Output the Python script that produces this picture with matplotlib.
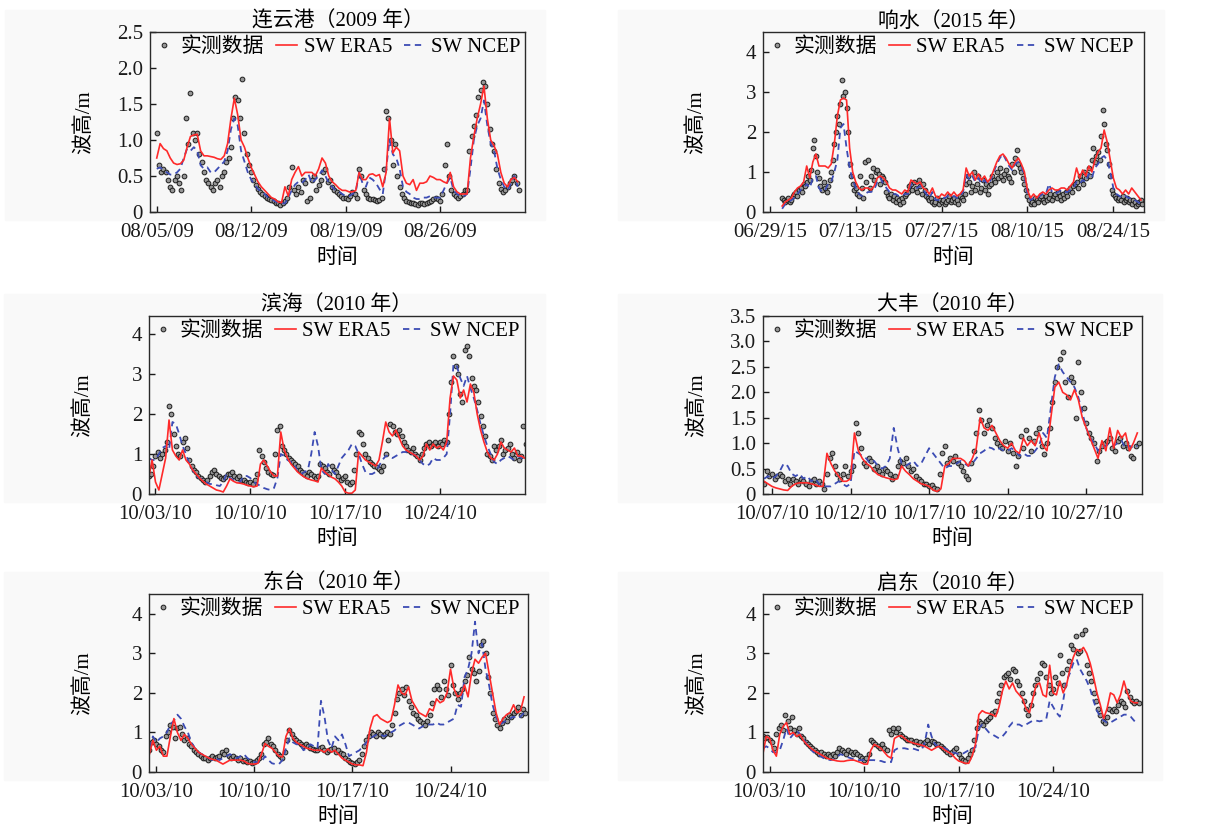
import matplotlib
matplotlib.use("Agg")
import matplotlib.pyplot as plt
import matplotlib.dates as mdates
from matplotlib.patches import Rectangle
from matplotlib.ticker import FuncFormatter
import pandas as pd

plt.rcParams["font.family"] = ["Liberation Serif", "Noto Sans CJK SC"]
plt.rcParams["font.size"] = 15
plt.rcParams["axes.unicode_minus"] = False

# ---------- 连云港 2009: obs every 4 h, models every 6 h, from 08/05 00:00 ----------
lyg_obs = [
    1.1, 0.65, 0.55, 0.6, 0.55, 0.45,
    0.35, 0.3, 0.45, 0.5, 0.4, 0.3,
    0.5, 1.3, 0.95, 1.65, 1.1, 1.0,
    1.1, 0.8, 0.7, 0.55, 0.45, 0.4,
    0.35, 0.3, 0.4, 0.45, 0.35, 0.5,
    0.55, 0.7, 0.75, 0.9, 1.3, 1.6,
    1.55, 1.3, 1.85, 1.1, 0.8, 0.65,
    0.55, 0.45, 0.38, 0.32, 0.28, 0.25,
    0.22, 0.2, 0.18, 0.16, 0.15, 0.13,
    0.12, 0.1, 0.12, 0.15, 0.2, 0.35,
    0.62, 0.3, 0.25, 0.35, 0.28, 0.45,
    0.4, 0.15, 0.2, 0.45, 0.5, 0.3,
    0.38, 0.45, 0.55, 0.6, 0.42, 0.45,
    0.35, 0.3, 0.28, 0.25, 0.22, 0.2,
    0.2, 0.18, 0.22, 0.28, 0.25, 0.2,
    0.6, 0.5, 0.3, 0.25, 0.2, 0.18,
    0.18, 0.16, 0.15, 0.17, 0.2, 0.6,
    1.4, 1.3, 1.0, 0.65, 0.95, 0.5,
    0.35, 0.25, 0.2, 0.15, 0.14, 0.12,
    0.12, 0.11, 0.1, 0.13, 0.12, 0.11,
    0.12, 0.14, 0.15, 0.18, 0.2, 0.18,
    0.15, 0.25, 0.65, 0.95, 0.5, 0.3,
    0.25, 0.22, 0.2, 0.22, 0.25, 0.3,
    0.3, 0.85, 1.05, 1.2, 1.35, 1.6,
    1.7, 1.8, 1.75, 1.5, 1.15, 0.95,
    0.85, 0.6, 0.4, 0.32, 0.28, 0.3,
    0.35, 0.4, 0.45, 0.5, 0.4, 0.3,
]
lyg_era5 = [
    0.75, 0.95, 0.88, 0.85, 0.75, 0.68, 0.66, 0.67, 0.72, 0.9, 1.05, 1.07,
    1.08, 0.85, 0.78, 0.78, 0.77, 0.76, 0.74, 0.73, 0.78, 0.95, 1.3, 1.58,
    1.35, 1.0, 0.9, 0.75, 0.62, 0.52, 0.42, 0.35, 0.3, 0.25, 0.2, 0.18,
    0.14, 0.13, 0.35, 0.22, 0.45, 0.55, 0.63, 0.5, 0.55, 0.55, 0.55, 0.5,
    0.6, 0.75, 0.68, 0.5, 0.42, 0.38, 0.33, 0.3, 0.3, 0.28, 0.28, 0.3,
    0.55, 0.45, 0.45, 0.52, 0.53, 0.5, 0.52, 0.35, 0.55, 1.3, 0.82, 0.9,
    0.85, 0.5, 0.4, 0.38, 0.45, 0.3, 0.4, 0.4, 0.42, 0.5, 0.48, 0.45,
    0.45, 0.42, 0.4, 0.55, 0.35, 0.28, 0.25, 0.25, 0.25, 0.75, 1.05, 1.3,
    1.5, 1.75, 1.3, 1.0, 0.92, 0.8, 0.55, 0.4, 0.35, 0.45, 0.48, 0.42,
]
lyg_ncep = [
    0.6, 0.62, 0.58, 0.55, 0.52, 0.52, 0.55, 0.6, 0.75, 0.88, 0.85, 0.9,
    0.85, 0.65, 0.6, 0.62, 0.55, 0.55, 0.6, 0.65, 0.7, 0.85, 1.15, 1.3,
    1.2, 0.85, 0.7, 0.55, 0.45, 0.38, 0.32, 0.28, 0.25, 0.2, 0.18, 0.15,
    0.13, 0.12, 0.12, 0.2, 0.3, 0.38, 0.42, 0.4, 0.45, 0.52, 0.4, 0.45,
    0.5, 0.58, 0.5, 0.4, 0.35, 0.3, 0.28, 0.25, 0.22, 0.22, 0.25, 0.28,
    0.55, 0.4, 0.35, 0.48, 0.45, 0.4, 0.32, 0.25, 0.6, 1.0, 0.8, 0.75,
    0.6, 0.35, 0.28, 0.25, 0.2, 0.18, 0.18, 0.2, 0.2, 0.22, 0.2, 0.2,
    0.2, 0.3, 0.4, 0.48, 0.3, 0.25, 0.22, 0.22, 0.25, 0.6, 1.0, 1.2,
    1.3, 1.55, 1.2, 0.95, 0.85, 0.6, 0.45, 0.35, 0.3, 0.4, 0.5, 0.35,
]

# ---------- 响水 2015: obs every 6 h, models every 12 h, from 07/01 00:00 ----------
xs_obs = [
    0.35, 0.3, 0.25, 0.3, 0.35, 0.25, 0.3, 0.4, 0.45, 0.5, 0.4, 0.55,
    0.6, 0.5, 0.7, 0.65, 0.75, 0.9, 0.8, 1.05, 1.6, 1.8, 1.4, 1.0,
    0.85, 0.65, 0.55, 0.75, 0.6, 0.5, 0.65, 0.8, 1.0, 1.3, 1.7, 2.0,
    2.4, 2.2, 2.7, 3.3, 2.9, 3.0, 2.6, 2.0, 1.2, 0.9, 0.7, 0.55,
    0.6, 0.45, 0.4, 0.9, 0.6, 0.35, 1.25, 0.75, 1.3, 0.6, 0.9, 1.1,
    0.8, 1.0, 1.05, 0.95, 0.7, 0.9, 0.85, 0.75, 0.5, 0.4, 0.35, 0.45,
    0.3, 0.4, 0.25, 0.35, 0.3, 0.2, 0.35, 0.25, 0.4, 0.45, 0.5, 0.65,
    0.7, 0.55, 0.75, 0.6, 0.5, 0.8, 0.65, 0.45, 0.7, 0.55, 0.4, 0.35,
    0.3, 0.35, 0.25, 0.2, 0.25, 0.35, 0.2, 0.3, 0.25, 0.3, 0.2, 0.25,
    0.3, 0.4, 0.25, 0.3, 0.35, 0.25, 0.3, 0.2, 0.4, 0.35, 0.3, 0.45,
    0.7, 0.9, 0.75, 0.5, 0.65, 1.0, 0.55, 0.7, 0.9, 0.5, 0.6, 0.8,
    0.55, 0.7, 0.45, 0.65, 0.7, 0.9, 0.8, 0.75, 1.0, 0.85, 1.1, 0.9,
    0.8, 0.95, 1.05, 0.9, 0.85, 0.75, 1.2, 1.0, 1.35, 1.55, 1.2, 1.1,
    1.0, 0.85, 0.7, 0.55, 0.4, 0.3, 0.2, 0.25, 0.2, 0.35, 0.3, 0.25,
    0.35, 0.4, 0.3, 0.25, 0.4, 0.3, 0.35, 0.45, 0.3, 0.4, 0.45, 0.35,
    0.5, 0.4, 0.3, 0.45, 0.35, 0.5, 0.4, 0.55, 0.6, 0.5, 0.65, 0.7,
    0.75, 0.6, 0.9, 0.8, 0.7, 1.0, 0.85, 0.95, 1.1, 0.9, 1.3, 1.6,
    1.25, 1.4, 1.5, 1.3, 1.9, 2.55, 2.2, 1.7, 1.55, 1.2, 0.9, 0.55,
    0.45, 0.4, 0.35, 0.3, 0.35, 0.3, 0.4, 0.25, 0.3, 0.35, 0.25, 0.3,
    0.2, 0.3, 0.25, 0.15, 0.2, 0.25, 0.3, 0.2,
]
xs_era5 = [
    0.15, 0.25, 0.3, 0.35, 0.5, 0.6, 0.65, 0.75, 1.15, 0.85, 1.25, 1.45,
    1.15, 1.15, 1.15, 1.1, 1.2, 1.7, 2.4, 2.8, 2.85, 2.8, 1.6, 1.0,
    0.75, 0.6, 0.55, 0.6, 0.6, 0.55, 0.65, 0.85, 0.9, 0.85, 0.75, 0.6,
    0.55, 0.55, 0.5, 0.45, 0.55, 0.5, 0.8, 0.75, 0.7, 0.75, 0.6, 0.55,
    0.45, 0.6, 0.4, 0.35, 0.45, 0.4, 0.5, 0.4, 0.5, 0.4, 0.45, 0.55,
    1.1, 0.9, 1.0, 0.8, 0.95, 0.8, 0.9, 0.75, 0.85, 1.05, 1.25, 1.4,
    1.45, 1.35, 1.2, 1.1, 1.25, 1.35, 1.2, 1.0, 0.55, 0.35, 0.45, 0.35,
    0.45, 0.5, 0.45, 0.55, 0.6, 0.55, 0.55, 0.6, 0.6, 0.55, 0.65, 0.75,
    1.1, 0.85, 1.05, 0.9, 1.15, 1.0, 1.3, 1.5, 1.6, 2.05, 1.75, 1.3,
    0.85, 0.6, 0.55, 0.45, 0.55, 0.45, 0.6, 0.5, 0.4, 0.3,
]
xs_ncep = [
    0.08, 0.2, 0.25, 0.3, 0.35, 0.45, 0.55, 0.6, 0.7, 0.6, 0.85, 0.9,
    0.6, 0.5, 0.55, 0.7, 0.75, 1.0, 1.3, 2.1, 2.2, 1.6, 1.1, 0.8,
    0.6, 0.45, 0.4, 0.45, 0.5, 0.5, 0.55, 0.75, 0.85, 0.7, 0.6, 0.5,
    0.45, 0.45, 0.4, 0.4, 0.45, 0.45, 0.7, 0.65, 0.6, 0.65, 0.55, 0.45,
    0.35, 0.5, 0.3, 0.3, 0.35, 0.35, 0.4, 0.35, 0.4, 0.35, 0.4, 0.5,
    0.95, 0.8, 0.9, 0.75, 0.85, 0.7, 0.8, 0.7, 0.8, 1.0, 1.2, 1.35,
    1.45, 1.3, 1.15, 1.05, 1.2, 1.25, 1.15, 0.9, 0.45, 0.3, 0.35, 0.35,
    0.4, 0.45, 0.45, 0.7, 0.5, 0.45, 0.5, 0.55, 0.5, 0.5, 0.55, 0.6,
    0.75, 0.7, 0.8, 0.75, 0.95, 0.85, 1.1, 1.2, 1.35, 1.4, 1.3, 1.0,
    0.6, 0.45, 0.4, 0.35, 0.4, 0.35, 0.35, 0.3, 0.25, 0.2,
]

# ---------- 滨海 2010: obs every 4 h, models every 6 h, from 10/02 12:00 ----------
bh_obs = [
    0.45, 0.5, 0.7, 0.95, 1.05, 0.9,
    1.0, 1.1, 1.3, 2.2, 2.0, 1.5,
    1.2, 1.0, 0.95, 1.3, 1.4, 1.15,
    0.85, 0.7, 0.6, 0.55, 0.45, 0.4,
    0.35, 0.3, 0.35, 0.45, 0.55, 0.6,
    0.5, 0.45, 0.4, 0.38, 0.42, 0.5,
    0.5, 0.55, 0.45, 0.4, 0.45, 0.35,
    0.35, 0.3, 0.28, 0.3, 0.25, 0.35,
    0.5, 1.1, 0.95, 0.8, 0.65, 0.55,
    0.5, 0.48, 1.0, 1.6, 1.7, 1.2,
    1.1, 1.0, 0.9, 0.85, 0.8, 0.75,
    0.7, 0.6, 0.55, 0.5, 0.45, 0.55,
    0.5, 0.45, 0.4, 0.45, 0.75, 0.7,
    0.65, 0.55, 0.5, 0.7, 0.6, 0.55,
    0.45, 0.35, 0.4, 0.45, 0.3, 0.25,
    0.3, 0.6, 1.0, 1.55, 1.5, 1.25,
    1.0, 0.9, 0.8, 0.75, 0.7, 0.68,
    0.62, 0.58, 0.7, 1.0, 1.35, 1.75,
    1.7, 1.55, 1.5, 1.6, 1.45, 1.3,
    1.2, 1.1, 1.05, 1.15, 1.0, 0.95,
    0.85, 1.0, 1.15, 1.25, 1.3, 1.2,
    1.25, 1.3, 1.2, 1.3, 1.25, 1.35,
    1.3, 2.0, 2.8, 3.45, 3.2, 3.0,
    2.5, 2.3, 3.6, 3.7, 3.45, 2.9,
    2.7, 2.6, 2.3, 1.95, 1.7, 1.45,
    1.0, 0.95, 0.85, 1.2, 1.1, 1.2,
    1.35, 1.0, 1.1, 1.15, 1.25, 1.0,
    0.9, 1.05, 0.85, 0.95, 1.7, 1.25,
]
bh_era5 = [
    0.4, 0.85, 0.3, 0.1, 0.5, 0.9, 1.85, 1.1, 0.95, 0.85, 1.1, 0.85,
    0.75, 0.6, 0.5, 0.4, 0.32, 0.25, 0.2, 0.15, 0.1, 0.08, 0.05, 0.2,
    0.38, 0.32, 0.28, 0.27, 0.25, 0.22, 0.2, 0.18, 0.2, 0.75, 0.85, 0.7,
    0.55, 0.45, 0.45, 1.55, 1.1, 0.9, 0.75, 0.65, 0.55, 0.48, 0.42, 0.38,
    0.35, 0.33, 0.3, 0.65, 0.55, 0.48, 0.42, 0.38, 0.3, 0.2, 0.05, 0.02,
    0.02, 0.1, 1.05, 0.95, 0.85, 0.8, 0.75, 0.7, 0.85, 1.3, 1.8, 1.55,
    1.45, 1.6, 1.4, 1.2, 1.1, 1.05, 1.0, 0.95, 0.85, 0.95, 1.25, 1.1,
    1.25, 1.15, 1.2, 1.1, 1.3, 2.4, 2.95, 2.85, 2.4, 2.6, 2.3, 2.75,
    2.55, 2.0, 1.6, 1.3, 1.05, 0.9, 0.85, 1.0, 1.3, 1.15, 1.1, 1.05,
    1.15, 0.95, 0.95, 0.9,
]
bh_ncep = [
    0.9, 0.85, 0.85, 1.0, 1.15, 1.2, 1.1, 1.8, 1.75, 1.5, 1.2, 1.0,
    0.75, 0.6, 0.45, 0.4, 0.35, 0.3, 0.25, 0.25, 0.22, 0.2, 0.3, 0.5,
    0.4, 0.35, 0.3, 0.3, 0.45, 0.45, 0.4, 0.3, 0.25, 0.2, 0.15, 0.12,
    0.1, 0.15, 0.4, 1.0, 0.95, 0.85, 0.8, 0.75, 0.55, 0.5, 0.55, 0.6,
    1.0, 1.55, 1.2, 0.6, 0.5, 0.75, 0.6, 0.5, 0.7, 0.9, 1.0, 1.1,
    1.25, 1.2, 1.0, 0.75, 0.55, 0.5, 0.5, 0.55, 0.7, 0.85, 0.95, 0.95,
    0.9, 0.95, 1.0, 1.05, 1.05, 1.0, 1.0, 0.95, 0.85, 0.75, 0.7, 0.75,
    0.9, 0.85, 0.85, 0.9, 1.0, 2.0, 3.25, 3.2, 2.9, 2.7, 2.95, 2.65,
    2.4, 2.1, 1.75, 1.45, 1.2, 1.0, 0.8, 0.75, 0.85, 0.9, 0.95, 0.9,
    0.85, 0.95, 0.9, 0.85,
]

# ---------- 大丰 2010: obs every 4 h, models every 6 h, from 10/06 12:00 ----------
df_obs = [
    0.2, 0.45, 0.35, 0.4, 0.3, 0.35,
    0.4, 0.35, 0.25, 0.3, 0.2, 0.3,
    0.25, 0.2, 0.3, 0.25, 0.2, 0.15,
    0.25, 0.3, 0.2, 0.25, 0.2, 0.1,
    0.4, 0.7, 0.8, 0.55, 0.4, 0.3,
    0.4, 0.55, 0.35, 0.45, 0.55, 1.4,
    1.2, 0.9, 0.6, 0.55, 0.7, 0.65,
    0.5, 0.55, 0.45, 0.4, 0.5, 0.45,
    0.4, 0.3, 0.35, 0.55, 0.65, 0.6,
    0.7, 0.55, 0.45, 0.5, 0.35, 0.3,
    0.25, 0.2, 0.2, 0.15, 0.18, 0.12,
    0.1, 0.4, 0.8, 0.95, 0.6, 0.7,
    0.65, 0.75, 0.6, 0.55, 0.45, 0.35,
    0.3, 0.6, 0.85, 1.2, 1.65, 1.45,
    1.2, 1.35, 1.45, 1.3, 1.1, 1.0,
    0.95, 0.9, 1.05, 0.85, 1.0, 0.8,
    0.55, 0.75, 1.15, 0.9, 1.25, 1.1,
    0.85, 1.05, 1.2, 1.3, 0.95, 0.78,
    1.0, 1.3, 1.8, 2.2, 2.5, 2.65,
    2.8, 2.2, 1.9, 2.3, 2.2, 1.5,
    2.6, 2.0, 1.7, 1.4, 1.2, 1.1,
    1.0, 0.65, 0.85, 0.95, 1.0, 1.05,
    1.1, 0.9, 0.85, 1.05, 1.1, 0.95,
    1.0, 0.9, 0.75, 0.7, 0.95, 1.0,
]
df_era5 = [
    0.25, 0.2, 0.15, 0.12, 0.1, 0.08, 0.07, 0.15, 0.2, 0.22, 0.22, 0.22,
    0.2, 0.18, 0.15, 0.15, 0.8, 0.6, 0.45, 0.35, 0.25, 0.25, 0.3, 1.2,
    0.85, 0.7, 0.6, 0.55, 0.45, 0.38, 0.35, 0.32, 0.3, 0.28, 0.3, 0.55,
    0.45, 0.38, 0.3, 0.25, 0.2, 0.18, 0.15, 0.08, 0.05, 0.1, 0.55, 0.6,
    0.7, 0.7, 0.7, 0.65, 0.55, 0.7, 0.9, 1.5, 1.3, 1.25, 1.35, 1.2,
    1.05, 0.95, 0.9, 1.0, 0.85, 0.8, 1.1, 0.95, 1.05, 0.95, 1.2, 0.95,
    0.85, 1.5, 2.1, 2.2, 2.0, 1.95, 1.85, 2.05, 1.85, 1.5, 1.3, 1.1,
    0.9, 0.7, 1.05, 0.85, 1.3, 0.9, 1.25, 1.1, 1.2, 0.85, 1.0, 1.2,
]
df_ncep = [
    0.3, 0.35, 0.3, 0.35, 0.45, 0.6, 0.55, 0.4, 0.35, 0.4, 0.3, 0.35,
    0.25, 0.3, 0.2, 0.15, 0.15, 0.15, 0.2, 0.25, 0.2, 0.15, 0.2, 0.85,
    0.8, 0.75, 0.7, 0.6, 0.65, 0.55, 0.5, 0.55, 0.7, 1.3, 0.9, 0.6,
    0.55, 0.6, 0.65, 0.55, 0.6, 0.75, 0.9, 0.8, 0.7, 0.6, 0.5, 0.55,
    0.55, 0.6, 0.65, 0.6, 0.55, 0.6, 0.7, 0.8, 0.85, 0.92, 0.9, 0.85,
    0.9, 0.85, 0.85, 0.9, 0.85, 0.75, 0.8, 0.75, 0.75, 0.85, 0.95, 1.2,
    1.1, 1.7, 2.3, 2.55, 2.4, 2.3, 2.2, 2.1, 1.9, 1.6, 1.3, 1.1,
    1.0, 0.85, 0.9, 0.95, 1.0, 0.95, 1.0, 1.05, 0.9, 0.95, 0.9, 0.95,
]

# ---------- 东台 2010: obs every 4 h, models every 6 h, from 10/02 12:00 ----------
dt_obs = [
    0.55, 0.75, 0.8, 0.7, 0.65, 0.55,
    0.5, 0.9, 1.0, 1.2, 1.15, 0.85,
    1.1, 1.15, 0.95, 0.8, 0.85, 0.7,
    0.65, 0.55, 0.5, 0.45, 0.4, 0.35,
    0.35, 0.3, 0.35, 0.4, 0.35, 0.38,
    0.4, 0.5, 0.45, 0.55, 0.4, 0.35,
    0.4, 0.35, 0.3, 0.35, 0.28, 0.3,
    0.25, 0.28, 0.22, 0.25, 0.3, 0.35,
    0.45, 0.7, 0.75, 0.85, 0.7, 0.65,
    0.55, 0.45, 0.4, 0.35, 0.5, 0.8,
    1.05, 0.95, 0.85, 0.8, 0.75, 0.7,
    0.65, 0.7, 0.65, 0.6, 0.58, 0.55,
    0.55, 0.6, 0.62, 0.55, 0.5, 0.55,
    0.58, 0.6, 0.5, 0.55, 0.48, 0.45,
    0.35, 0.3, 0.25, 0.22, 0.2, 0.25,
    0.3, 0.45, 0.65, 0.8, 0.9, 1.0,
    0.95, 0.9, 1.0, 0.95, 0.9, 0.95,
    1.0, 0.95, 1.2, 1.5, 1.85, 2.0,
    2.1, 1.95, 2.15, 1.8, 1.65, 1.5,
    1.45, 1.35, 1.3, 1.25, 1.2, 1.3,
    1.45, 1.75, 2.1, 2.2, 2.1, 1.9,
    2.3, 2.1, 1.95, 2.7, 2.2, 2.0,
    1.85, 2.0, 2.1, 2.3, 2.45, 2.9,
    2.6, 2.5, 2.3, 2.55, 3.2, 3.3,
    3.0, 2.4, 2.0, 1.5, 1.35, 1.2,
    1.1, 1.25, 1.35, 1.3, 1.45, 1.4,
    1.5, 1.55, 1.65, 1.45, 1.6, 1.5,
]
dt_era5 = [
    0.45, 0.8, 0.55, 0.65, 0.4, 0.4, 0.9, 1.35, 1.0, 0.8, 0.95, 0.85,
    0.7, 0.6, 0.5, 0.45, 0.4, 0.35, 0.32, 0.3, 0.25, 0.2, 0.25, 0.3,
    0.3, 0.3, 0.3, 0.28, 0.22, 0.2, 0.2, 0.22, 0.45, 0.72, 0.65, 0.6,
    0.5, 0.4, 0.38, 0.9, 1.1, 0.85, 0.75, 0.7, 0.65, 0.6, 0.58, 0.55,
    0.55, 0.55, 0.5, 0.58, 0.5, 0.55, 0.45, 0.35, 0.3, 0.25, 0.2, 0.18,
    0.18, 0.16, 0.5, 1.1, 1.4, 1.45, 1.35, 1.3, 1.25, 1.3, 1.7, 2.2,
    2.0, 1.95, 2.15, 1.8, 1.65, 1.5, 1.45, 1.4, 1.6, 1.55, 1.85, 1.75,
    1.8, 2.0, 2.6, 2.1, 1.9, 1.95, 2.2, 1.9, 2.5, 2.85, 2.75, 2.9,
    3.0, 2.5, 2.0, 1.5, 1.2, 1.35, 1.45, 1.5, 1.7, 1.5, 1.55, 1.9,
]
dt_ncep = [
    0.6, 0.9, 0.75, 0.85, 0.9, 1.0, 1.2, 1.3, 1.45, 1.35, 1.15, 1.0,
    0.75, 0.6, 0.5, 0.45, 0.4, 0.35, 0.3, 0.35, 0.3, 0.35, 0.4, 0.45,
    0.4, 0.35, 0.4, 0.45, 0.35, 0.3, 0.25, 0.25, 0.25, 0.4, 0.3, 0.22,
    0.2, 0.2, 0.3, 0.6, 0.85, 0.75, 0.7, 0.7, 0.55, 0.6, 0.7, 0.65,
    0.6, 1.8, 1.4, 0.8, 0.6, 0.9, 0.8, 0.95, 0.7, 0.4, 0.45, 0.5,
    0.55, 0.65, 0.75, 0.85, 0.9, 0.95, 0.95, 0.9, 0.95, 1.0, 1.05, 1.15,
    1.2, 1.25, 1.25, 1.2, 1.15, 1.1, 1.15, 1.2, 1.2, 1.2, 1.25, 1.2,
    1.2, 1.25, 1.3, 1.35, 1.7, 1.65, 2.4, 2.6, 3.0, 3.8, 3.0, 3.25,
    2.6, 2.2, 1.7, 1.4, 1.2, 1.25, 1.3, 1.35, 1.4, 1.35, 1.4, 1.5,
]

# ---------- 启东 2010: obs every 4 h, models every 6 h, from 10/02 12:00 ----------
qd_obs = [
    0.9, 0.85, 0.88, 0.8, 0.75, 0.6,
    0.95, 1.1, 1.2, 1.05, 1.45, 1.3,
    1.1, 1.4, 1.05, 0.95, 1.1, 0.9,
    0.85, 0.75, 0.7, 0.65, 0.6, 0.55,
    0.5, 0.45, 0.5, 0.45, 0.4, 0.45,
    0.4, 0.45, 0.4, 0.5, 0.6, 0.55,
    0.5, 0.45, 0.55, 0.5, 0.45, 0.5,
    0.45, 0.4, 0.35, 0.3, 0.35, 0.45,
    0.8, 0.75, 0.7, 0.65, 0.6, 0.7,
    0.6, 0.55, 1.05, 0.95, 1.1, 1.0,
    1.1, 0.95, 0.9, 0.85, 0.8, 0.82,
    0.8, 0.75, 0.78, 0.72, 0.75, 0.7,
    0.75, 0.8, 0.72, 0.78, 0.75, 0.7,
    0.72, 0.65, 0.6, 0.55, 0.5, 0.45,
    0.5, 0.55, 0.6, 0.45, 0.35, 0.3,
    0.28, 0.35, 0.45, 0.55, 0.8, 1.1,
    1.3, 1.25, 1.2, 1.3, 1.35, 1.4,
    1.5, 1.55, 1.8, 2.0, 2.2, 2.4,
    2.45, 2.5, 2.35, 2.6, 2.55, 2.3,
    2.2, 2.0, 1.8, 1.6, 1.45, 1.7,
    2.0, 2.2, 2.35, 2.5, 2.75, 2.7,
    2.4, 2.2, 2.0, 2.1, 2.4, 2.25,
    2.95, 2.5, 2.2, 2.6, 2.8, 3.2,
    3.1, 3.45, 3.0, 3.05, 3.5, 3.6,
    2.7, 2.5, 2.3, 2.0, 1.8, 1.6,
    1.45, 1.3, 1.25, 1.4, 1.6, 1.55,
    1.6, 1.55, 1.7, 1.8, 1.75, 1.65,
    2.05, 1.9, 1.8, 1.75, 1.8, 1.75,
]
qd_era5 = [
    0.45, 0.9, 0.85, 0.55, 0.4, 0.95, 1.15, 1.25, 0.95, 1.0, 0.9, 0.95,
    0.8, 0.7, 0.62, 0.55, 0.5, 0.45, 0.4, 0.35, 0.32, 0.3, 0.28, 0.27,
    0.27, 0.29, 0.3, 0.3, 0.27, 0.24, 0.2, 0.2, 0.55, 0.7, 0.65, 0.6,
    0.5, 0.4, 0.35, 0.85, 0.9, 0.92, 0.85, 0.78, 0.75, 0.72, 0.7, 0.68,
    0.65, 0.6, 0.55, 0.6, 0.65, 0.62, 0.55, 0.5, 0.45, 0.35, 0.28, 0.25,
    0.22, 0.22, 0.4, 0.7, 1.45, 1.55, 1.5, 1.48, 1.45, 1.4, 1.65, 2.05,
    2.3, 2.1, 2.25, 2.05, 1.95, 1.85, 1.6, 1.5, 1.85, 2.2, 2.25, 1.95,
    1.9, 2.7, 2.0, 1.95, 2.3, 2.0, 2.2, 2.6, 2.9, 3.1, 3.05, 3.15,
    3.0, 2.75, 2.4, 2.0, 1.7, 1.35, 1.6, 2.0, 1.95, 1.75, 1.95, 2.3,
    2.0, 1.8, 1.75, 1.75,
]
qd_ncep = [
    0.6, 0.65, 0.6, 0.5, 0.5, 0.55, 0.8, 1.1, 0.85, 0.95, 1.05, 0.95,
    0.85, 0.7, 0.6, 0.5, 0.45, 0.4, 0.35, 0.33, 0.3, 0.32, 0.38, 0.45,
    0.42, 0.38, 0.35, 0.32, 0.3, 0.3, 0.3, 0.3, 0.3, 0.3, 0.28, 0.28,
    0.25, 0.25, 0.25, 0.55, 0.6, 0.6, 0.6, 0.58, 0.6, 0.58, 0.55, 0.55,
    0.75, 1.2, 0.9, 0.7, 0.65, 0.62, 0.6, 0.55, 0.5, 0.48, 0.45, 0.45,
    0.5, 0.55, 0.6, 0.62, 1.1, 1.2, 1.1, 1.0, 0.95, 0.9, 0.85, 0.9,
    1.0, 1.15, 1.25, 1.2, 1.2, 1.15, 1.2, 1.25, 1.3, 1.3, 1.28, 1.3,
    1.35, 1.8, 1.65, 1.5, 1.4, 1.8, 2.3, 2.5, 2.75, 2.85, 2.6, 2.45,
    2.3, 2.1, 1.8, 1.55, 1.4, 1.3, 1.25, 1.25, 1.3, 1.35, 1.4, 1.45,
    1.45, 1.4, 1.3, 1.2,
]

# x tick dates per station
lyg_ticks = ["2009-08-05", "2009-08-12", "2009-08-19", "2009-08-26"]
xs_ticks = ["2015-06-29", "2015-07-13", "2015-07-27", "2015-08-10", "2015-08-24"]
oct_ticks = ["2010-10-03", "2010-10-10", "2010-10-17", "2010-10-24"]
df_ticks = ["2010-10-07", "2010-10-12", "2010-10-17", "2010-10-22", "2010-10-27"]

OBS_KW = dict(linestyle="none", marker="o", ms=3.4, mfc="#969696", mec="#1c1c1c", mew=0.7)
ERA5_KW = dict(color="#ff2a2a", lw=1.2)
NCEP_KW = dict(color="#3c4cb4", lw=1.3, linestyle=(0, (3.5, 2.5)))

W, H = 1232, 839
fig = plt.figure(figsize=(W / 100, H / 100), dpi=100, facecolor="white")


def add_axes_px(left, top, right, bottom):
    # faint grey panel backdrop behind axes and tick labels
    fig.patches.append(Rectangle(((left - 145) / W, 1 - (bottom + 8) / H),
                                 (right - left + 165) / W, (bottom - top + 30) / H,
                                 transform=fig.transFigure, color="#f9f9f9", zorder=-10))
    return fig.add_axes([left / W, 1 - bottom / H, (right - left) / W, (bottom - top) / H])


def draw_panel(ax, title, obs, obs_freq, era5, ncep, mod_freq, start, xlim, ticks, ymax, ystep, fmt):
    t_obs = pd.date_range(start, periods=len(obs), freq=obs_freq)
    t_mod = pd.date_range(start, periods=len(era5), freq=mod_freq)
    h_obs, = ax.plot(t_obs, obs, **OBS_KW)
    h_ncep, = ax.plot(t_mod, ncep, **NCEP_KW)
    h_era, = ax.plot(t_mod, era5, **ERA5_KW)

    ax.set_facecolor("#f7f7f7")
    ax.set_xlim(pd.Timestamp(xlim[0]), pd.Timestamp(xlim[1]))
    ax.set_xticks(pd.to_datetime(ticks))
    ax.xaxis.set_major_formatter(mdates.DateFormatter("%m/%d/%y"))
    ax.set_ylim(0, ymax)
    n = int(round(ymax / ystep)) if ystep == 0.5 else int(ymax)
    ax.set_yticks([i * ystep for i in range(n + 1)])
    ax.yaxis.set_major_formatter(FuncFormatter(lambda v, p: "0" if abs(v) < 1e-9 else fmt % v))
    ax.tick_params(axis="both", direction="in", length=4, width=1, labelsize=15, colors="#1a1a1a")
    ax.tick_params(axis="x", pad=8)
    ax.tick_params(axis="y", pad=5)
    for s in ax.spines.values():
        s.set_linewidth(1.0)
        s.set_color("#2a2a2a")

    ax.set_title(title, fontsize=15, pad=4)
    ax.set_xlabel("时间", fontsize=15)
    ax.xaxis.set_label_coords(0.5, -0.2)
    ax.xaxis.label.set_va("top")
    ax.set_ylabel("波高/m", fontsize=15)
    ax.yaxis.set_label_coords(-0.148, 0.5)

    ax.legend([h_obs, h_era, h_ncep], ["实测数据", "SW ERA5", "SW NCEP"],
              loc="upper left", bbox_to_anchor=(-0.005, 1.0), ncol=3, frameon=False,
              fontsize=15, handlelength=1.0, handletextpad=0.3, columnspacing=0.6,
              borderaxespad=0.0, borderpad=0.25, numpoints=1)


ax1 = add_axes_px(150, 32, 525, 212)
draw_panel(ax1, "连云港（2009 年）", lyg_obs, "4h", lyg_era5, lyg_ncep, "6h",
           "2009-08-05 00:00", ("2009-08-04 12:00", "2009-09-01 07:00"), lyg_ticks, 2.5, 0.5, "%.1f")

ax2 = add_axes_px(763, 32, 1144, 212)
draw_panel(ax2, "响水（2015 年）", xs_obs, "6h", xs_era5, xs_ncep, "12h",
           "2015-07-01 00:00", ("2015-06-27 21:00", "2015-08-29 00:00"), xs_ticks, 4.5, 1, "%d")

ax3 = add_axes_px(149, 316, 525, 494)
draw_panel(ax3, "滨海（2010 年）", bh_obs, "4h", bh_era5, bh_ncep, "6h",
           "2010-10-02 12:00", ("2010-10-02 12:30", "2010-10-30 06:45"), oct_ticks, 4.45, 1, "%d")

ax4 = add_axes_px(763, 316, 1142, 494)
draw_panel(ax4, "大丰（2010 年）", df_obs, "4h", df_era5, df_ncep, "6h",
           "2010-10-06 12:00", ("2010-10-06 10:20", "2010-10-30 13:10"), df_ticks, 3.5, 0.5, "%.1f")

ax5 = add_axes_px(149, 594, 528, 772)
draw_panel(ax5, "东台（2010 年）", dt_obs, "4h", dt_era5, dt_ncep, "6h",
           "2010-10-02 12:00", ("2010-10-02 11:20", "2010-10-29 12:45"), oct_ticks, 4.5, 1, "%d")

ax6 = add_axes_px(763, 594, 1142, 772)
draw_panel(ax6, "启东（2010 年）", qd_obs, "4h", qd_era5, qd_ncep, "6h",
           "2010-10-02 12:00", ("2010-10-02 12:15", "2010-10-30 14:10"), oct_ticks, 4.5, 1, "%d")

fig.savefig("out.png", dpi=100, facecolor="white")
